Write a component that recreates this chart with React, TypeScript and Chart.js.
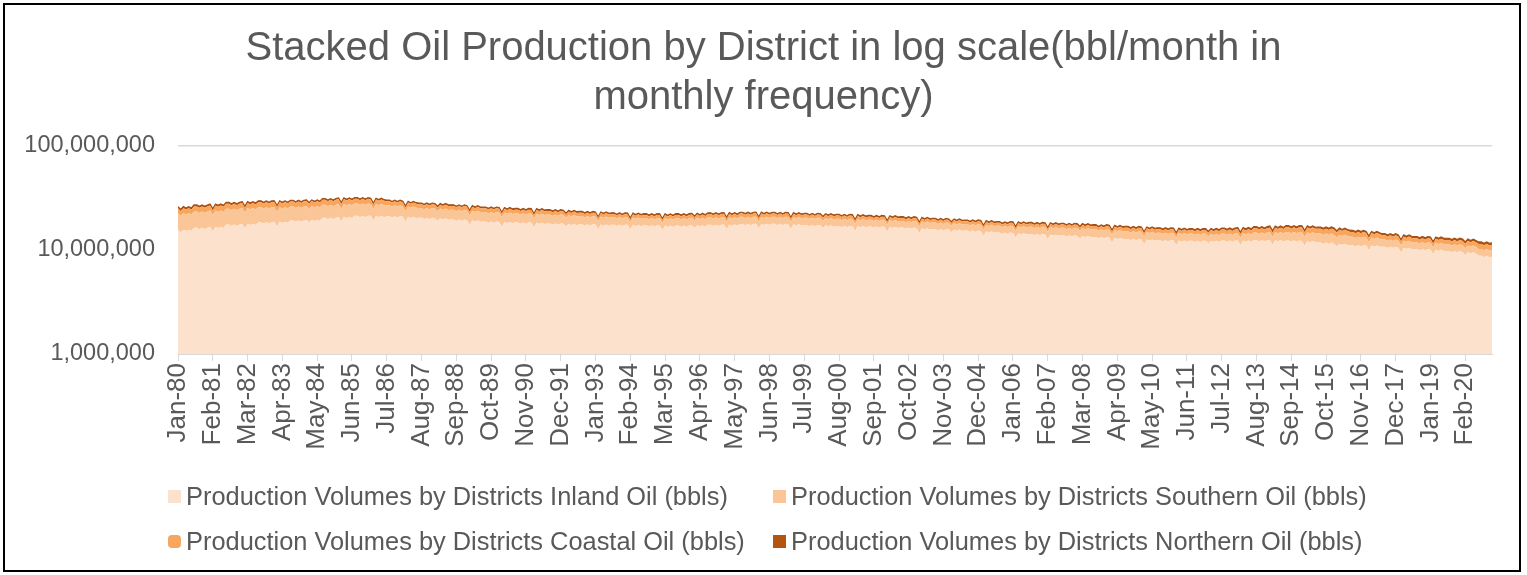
import React, { useEffect, useRef } from 'react';
import { Chart, registerables } from 'chart.js';

Chart.register(...registerables);

// ---------- data ----------
const MONTHS = ['Jan', 'Feb', 'Mar', 'Apr', 'May', 'Jun', 'Jul', 'Aug', 'Sep', 'Oct', 'Nov', 'Dec'];
const YEARS = ['80', '81', '82', '83', '84', '85', '86', '87', '88', '89', '90', '91', '92', '93', '94', '95', '96', '97', '98', '99',
  '00', '01', '02', '03', '04', '05', '06', '07', '08', '09', '10', '11', '12', '13', '14', '15', '16', '17', '18', '19', '20'];
const categories: string[] = YEARS.flatMap((y) => MONTHS.map((m) => `${m}-${y}`));

const xTickLabels = ['Jan-80', 'Feb-81', 'Mar-82', 'Apr-83', 'May-84', 'Jun-85', 'Jul-86', 'Aug-87', 'Sep-88', 'Oct-89',
  'Nov-90', 'Dec-91', 'Jan-93', 'Feb-94', 'Mar-95', 'Apr-96', 'May-97', 'Jun-98', 'Jul-99', 'Aug-00', 'Sep-01', 'Oct-02',
  'Nov-03', 'Dec-04', 'Jan-06', 'Feb-07', 'Mar-08', 'Apr-09', 'May-10', 'Jun-11', 'Jul-12', 'Aug-13', 'Sep-14', 'Oct-15',
  'Nov-16', 'Dec-17', 'Jan-19', 'Feb-20'];
const yTickValues = [1000000, 10000000, 100000000];

// values in units of 10,000 bbl per month, one row per year (Jan..Dec)
const UNIT = 10000;
const inlandOil = [
  1570, 1476, 1570, 1523, 1570, 1523, 1633, 1633, 1584, 1633, 1584, 1633,
  1677, 1509, 1677, 1627, 1677, 1627, 1757, 1757, 1704, 1757, 1704, 1757,
  1793, 1614, 1793, 1739, 1793, 1739, 1850, 1850, 1795, 1850, 1795, 1850,
  1870, 1683, 1870, 1814, 1870, 1814, 1923, 1923, 1865, 1923, 1865, 1923,
  1957, 1840, 1957, 1898, 1957, 1898, 2037, 2037, 1976, 2037, 1976, 2037,
  2083, 1875, 2083, 2021, 2083, 2021, 2130, 2130, 2066, 2130, 2066, 2130,
  2130, 1917, 2130, 2066, 2130, 2066, 2107, 2107, 2044, 2107, 2044, 2107,
  2083, 1875, 2083, 2021, 2083, 2021, 2040, 2040, 1979, 2040, 1979, 2040,
  2020, 1899, 2020, 1959, 2020, 1959, 1963, 1963, 1904, 1963, 1904, 1963,
  1927, 1734, 1927, 1869, 1927, 1869, 1877, 1877, 1821, 1877, 1821, 1877,
  1863, 1677, 1863, 1807, 1863, 1807, 1840, 1840, 1785, 1840, 1785, 1840,
  1830, 1647, 1830, 1775, 1830, 1775, 1803, 1803, 1749, 1803, 1749, 1803,
  1787, 1680, 1787, 1733, 1787, 1733, 1767, 1767, 1714, 1767, 1714, 1767,
  1763, 1587, 1763, 1710, 1763, 1710, 1753, 1753, 1700, 1753, 1700, 1753,
  1747, 1572, 1747, 1695, 1747, 1695, 1730, 1730, 1678, 1730, 1678, 1730,
  1720, 1548, 1720, 1668, 1720, 1668, 1720, 1720, 1668, 1720, 1668, 1720,
  1730, 1626, 1730, 1678, 1730, 1678, 1750, 1750, 1698, 1750, 1698, 1750,
  1760, 1584, 1760, 1707, 1760, 1707, 1780, 1780, 1727, 1780, 1727, 1780,
  1790, 1611, 1790, 1736, 1790, 1736, 1787, 1787, 1733, 1787, 1733, 1787,
  1773, 1596, 1773, 1720, 1773, 1720, 1743, 1743, 1691, 1743, 1691, 1743,
  1727, 1623, 1727, 1675, 1727, 1675, 1703, 1703, 1652, 1703, 1652, 1703,
  1697, 1527, 1697, 1646, 1697, 1646, 1683, 1683, 1633, 1683, 1633, 1683,
  1677, 1509, 1677, 1627, 1677, 1627, 1647, 1647, 1598, 1647, 1598, 1647,
  1623, 1461, 1623, 1574, 1623, 1574, 1587, 1587, 1539, 1587, 1539, 1587,
  1573, 1479, 1573, 1526, 1573, 1526, 1537, 1537, 1491, 1537, 1491, 1537,
  1513, 1362, 1513, 1468, 1513, 1468, 1473, 1473, 1429, 1473, 1429, 1473,
  1457, 1311, 1457, 1413, 1457, 1413, 1427, 1427, 1384, 1427, 1384, 1427,
  1413, 1272, 1413, 1371, 1413, 1371, 1383, 1383, 1342, 1383, 1342, 1383,
  1367, 1285, 1367, 1326, 1367, 1326, 1330, 1330, 1290, 1330, 1290, 1330,
  1310, 1179, 1310, 1271, 1310, 1271, 1277, 1277, 1239, 1277, 1239, 1277,
  1263, 1137, 1263, 1225, 1263, 1225, 1243, 1243, 1206, 1243, 1206, 1243,
  1237, 1113, 1237, 1200, 1237, 1200, 1230, 1230, 1193, 1230, 1193, 1230,
  1230, 1156, 1230, 1193, 1230, 1193, 1233, 1233, 1196, 1233, 1196, 1233,
  1237, 1113, 1237, 1200, 1237, 1200, 1243, 1243, 1206, 1243, 1206, 1243,
  1247, 1122, 1247, 1210, 1247, 1210, 1237, 1237, 1200, 1237, 1200, 1237,
  1223, 1101, 1223, 1186, 1223, 1186, 1180, 1180, 1145, 1180, 1145, 1180,
  1150, 1081, 1150, 1116, 1150, 1116, 1113, 1113, 1080, 1113, 1080, 1113,
  1107, 996, 1107, 1074, 1107, 1074, 1077, 1077, 1045, 1077, 1045, 1077,
  1053, 948, 1053, 1021, 1053, 1021, 1020, 1020, 989, 1020, 989, 1020,
  1010, 909, 1010, 980, 1010, 980, 977, 977, 948, 977, 948, 977,
  953, 896, 953, 924, 953, 924, 880, 880, 854, 880, 854, 860,
];
const southernOil = [
  690, 649, 690, 669, 690, 669, 710, 710, 689, 710, 689, 710,
  720, 648, 720, 698, 720, 698, 733, 733, 711, 733, 711, 733,
  737, 663, 737, 715, 737, 715, 727, 727, 705, 727, 705, 727,
  713, 642, 713, 692, 713, 692, 693, 693, 672, 693, 672, 693,
  687, 646, 687, 666, 687, 666, 683, 683, 663, 683, 663, 683,
  687, 618, 687, 666, 687, 666, 667, 667, 647, 667, 647, 667,
  643, 579, 643, 624, 643, 624, 580, 580, 563, 580, 563, 580,
  540, 486, 540, 524, 540, 524, 493, 493, 478, 493, 478, 493,
  487, 458, 487, 472, 487, 472, 470, 470, 456, 470, 456, 470,
  460, 414, 460, 446, 460, 446, 440, 440, 427, 440, 427, 440,
  430, 387, 430, 417, 430, 417, 413, 413, 401, 413, 401, 413,
  407, 366, 407, 395, 407, 395, 390, 390, 378, 390, 378, 390,
  380, 357, 380, 369, 380, 369, 353, 353, 342, 353, 342, 353,
  337, 303, 337, 327, 337, 327, 313, 313, 304, 313, 304, 313,
  307, 276, 307, 298, 307, 298, 300, 300, 291, 300, 291, 300,
  300, 270, 300, 291, 300, 291, 303, 303, 294, 303, 294, 303,
  307, 289, 307, 298, 307, 298, 310, 310, 301, 310, 301, 310,
  310, 279, 310, 301, 310, 301, 307, 307, 298, 307, 298, 307,
  303, 273, 303, 294, 303, 294, 300, 300, 291, 300, 291, 300,
  300, 270, 300, 291, 300, 291, 300, 300, 291, 300, 291, 300,
  300, 282, 300, 291, 300, 291, 293, 293, 284, 293, 284, 293,
  287, 258, 287, 278, 287, 278, 273, 273, 265, 273, 265, 273,
  267, 240, 267, 259, 267, 259, 257, 257, 249, 257, 249, 257,
  253, 228, 253, 245, 253, 245, 247, 247, 240, 247, 240, 247,
  243, 228, 243, 236, 243, 236, 237, 237, 230, 237, 230, 237,
  233, 210, 233, 226, 233, 226, 233, 233, 226, 233, 226, 233,
  237, 213, 237, 230, 237, 230, 243, 243, 236, 243, 236, 243,
  247, 222, 247, 240, 247, 240, 253, 253, 245, 253, 245, 253,
  257, 242, 257, 249, 257, 249, 253, 253, 245, 253, 245, 253,
  247, 222, 247, 240, 247, 240, 237, 237, 230, 237, 230, 237,
  233, 210, 233, 226, 233, 226, 223, 223, 216, 223, 216, 223,
  217, 195, 217, 210, 217, 210, 207, 207, 201, 207, 201, 207,
  203, 191, 203, 197, 203, 197, 207, 207, 201, 207, 201, 207,
  213, 192, 213, 207, 213, 207, 230, 230, 223, 230, 223, 230,
  240, 216, 240, 233, 240, 233, 253, 253, 245, 253, 245, 253,
  257, 231, 257, 249, 257, 249, 257, 257, 249, 257, 249, 257,
  253, 238, 253, 245, 253, 245, 230, 230, 223, 230, 223, 230,
  210, 189, 210, 204, 210, 204, 183, 183, 178, 183, 178, 183,
  177, 159, 177, 172, 177, 172, 167, 167, 162, 167, 162, 167,
  163, 147, 163, 158, 163, 158, 157, 157, 152, 157, 152, 157,
  153, 144, 153, 148, 153, 148, 145, 145, 141, 145, 141, 140,
];
const coastalOil = [
  265, 249, 265, 257, 265, 257, 277, 277, 269, 277, 269, 277,
  283, 255, 283, 275, 283, 275, 293, 293, 284, 293, 284, 293,
  297, 267, 297, 288, 297, 288, 303, 303, 294, 303, 294, 303,
  307, 276, 307, 298, 307, 298, 310, 310, 301, 310, 301, 310,
  310, 291, 310, 301, 310, 301, 317, 317, 307, 317, 307, 317,
  323, 291, 323, 313, 323, 313, 310, 310, 301, 310, 301, 310,
  290, 261, 290, 281, 290, 281, 257, 257, 249, 257, 249, 257,
  243, 219, 243, 236, 243, 236, 227, 227, 220, 227, 220, 227,
  223, 210, 223, 216, 223, 216, 217, 217, 210, 217, 210, 217,
  213, 192, 213, 207, 213, 207, 203, 203, 197, 203, 197, 203,
  197, 177, 197, 191, 197, 191, 190, 190, 184, 190, 184, 190,
  190, 171, 190, 184, 190, 184, 183, 183, 178, 183, 178, 183,
  177, 166, 177, 172, 177, 172, 167, 167, 162, 167, 162, 167,
  163, 147, 163, 158, 163, 158, 153, 153, 148, 153, 148, 153,
  147, 132, 147, 143, 147, 143, 143, 143, 139, 143, 139, 143,
  147, 132, 147, 143, 147, 143, 153, 153, 148, 153, 148, 153,
  157, 148, 157, 152, 157, 152, 160, 160, 155, 160, 155, 160,
  160, 144, 160, 155, 160, 155, 160, 160, 155, 160, 155, 160,
  160, 144, 160, 155, 160, 155, 157, 157, 152, 157, 152, 157,
  153, 138, 153, 148, 153, 148, 150, 150, 146, 150, 146, 150,
  150, 141, 150, 146, 150, 146, 147, 147, 143, 147, 143, 147,
  143, 129, 143, 139, 143, 139, 137, 137, 133, 137, 133, 137,
  133, 120, 133, 129, 133, 129, 130, 130, 126, 130, 126, 130,
  130, 117, 130, 126, 130, 126, 127, 127, 123, 127, 123, 127,
  123, 116, 123, 119, 123, 119, 120, 120, 116, 120, 116, 120,
  120, 108, 120, 116, 120, 116, 120, 118, 100, 105, 112, 120,
  120, 108, 120, 116, 120, 116, 120, 120, 116, 120, 116, 120,
  120, 108, 120, 116, 120, 116, 120, 120, 116, 120, 116, 120,
  120, 113, 120, 116, 120, 116, 120, 120, 100, 108, 114, 120,
  120, 108, 120, 116, 120, 116, 120, 120, 116, 120, 116, 120,
  120, 108, 120, 116, 120, 116, 120, 120, 116, 120, 116, 120,
  120, 108, 120, 116, 120, 116, 123, 123, 119, 123, 119, 123,
  127, 119, 127, 123, 127, 123, 133, 133, 129, 133, 129, 133,
  137, 123, 137, 133, 137, 133, 147, 147, 143, 147, 143, 147,
  153, 138, 153, 148, 153, 148, 163, 163, 158, 163, 158, 163,
  167, 150, 167, 162, 167, 162, 167, 167, 162, 167, 162, 167,
  163, 153, 163, 158, 163, 158, 150, 150, 146, 150, 146, 150,
  140, 126, 140, 136, 140, 136, 123, 123, 119, 123, 119, 123,
  117, 105, 117, 113, 117, 113, 110, 110, 107, 110, 107, 110,
  110, 99, 110, 107, 110, 107, 113, 113, 110, 113, 110, 113,
  117, 110, 117, 113, 117, 113, 120, 120, 116, 120, 116, 120,
];
const northernOil = [
  90, 85, 90, 87, 90, 87, 90, 90, 87, 90, 87, 90,
  90, 81, 90, 87, 90, 87, 90, 90, 87, 90, 87, 90,
  90, 81, 90, 87, 90, 87, 90, 90, 87, 90, 87, 88,
  82, 74, 82, 80, 81, 79, 80, 80, 78, 80, 78, 80,
  80, 75, 80, 78, 80, 78, 80, 80, 78, 80, 78, 80,
  80, 72, 80, 78, 80, 78, 80, 80, 78, 80, 78, 80,
  80, 72, 80, 78, 79, 77, 76, 76, 74, 75, 73, 74,
  72, 65, 71, 69, 70, 68, 70, 70, 68, 70, 68, 70,
  70, 66, 70, 68, 70, 68, 70, 70, 68, 70, 68, 70,
  70, 63, 70, 68, 70, 68, 70, 70, 68, 70, 68, 70,
  70, 63, 70, 68, 70, 68, 70, 70, 68, 70, 68, 70,
  70, 63, 70, 68, 70, 68, 68, 68, 66, 66, 64, 65,
  63, 59, 62, 60, 62, 60, 61, 61, 59, 60, 58, 60,
  60, 54, 60, 58, 60, 58, 60, 60, 58, 60, 58, 60,
  60, 54, 60, 58, 60, 58, 60, 60, 58, 60, 58, 60,
  60, 54, 60, 58, 60, 58, 60, 60, 58, 60, 58, 60,
  60, 56, 60, 58, 60, 58, 60, 60, 58, 60, 58, 60,
  60, 54, 60, 58, 60, 58, 60, 60, 58, 60, 58, 60,
  60, 54, 60, 58, 60, 58, 60, 60, 58, 60, 58, 60,
  60, 54, 60, 58, 60, 58, 60, 60, 58, 60, 58, 60,
  60, 56, 60, 58, 60, 58, 60, 60, 58, 60, 58, 60,
  60, 54, 60, 58, 60, 58, 60, 60, 58, 60, 58, 60,
  60, 54, 60, 58, 59, 57, 57, 56, 54, 55, 53, 54,
  53, 48, 52, 51, 52, 50, 51, 51, 49, 50, 49, 50,
  50, 47, 50, 49, 50, 49, 50, 50, 49, 50, 49, 50,
  50, 45, 50, 49, 50, 49, 50, 50, 49, 50, 49, 50,
  50, 45, 50, 49, 50, 49, 50, 50, 49, 50, 49, 50,
  50, 45, 50, 49, 50, 49, 50, 50, 49, 50, 49, 50,
  50, 47, 50, 49, 50, 49, 50, 50, 49, 50, 49, 50,
  50, 45, 50, 49, 50, 49, 50, 50, 49, 50, 49, 50,
  50, 45, 50, 49, 50, 49, 50, 50, 49, 50, 49, 50,
  50, 45, 50, 49, 50, 49, 50, 50, 49, 50, 49, 50,
  50, 47, 50, 49, 51, 50, 52, 53, 52, 54, 53, 55,
  56, 51, 57, 56, 58, 57, 59, 60, 58, 60, 58, 60,
  60, 54, 60, 58, 60, 58, 60, 60, 58, 60, 58, 60,
  60, 54, 60, 58, 60, 58, 60, 60, 58, 60, 58, 60,
  60, 56, 60, 58, 59, 57, 57, 56, 54, 55, 53, 54,
  53, 48, 52, 51, 52, 50, 51, 51, 49, 50, 49, 50,
  50, 45, 50, 49, 50, 49, 50, 50, 49, 50, 49, 50,
  50, 45, 50, 49, 50, 49, 50, 50, 49, 50, 49, 50,
  50, 47, 50, 49, 50, 49, 50, 50, 49, 50, 49, 50,
];

const seriesNames = [
  'Production Volumes by Districts Inland Oil (bbls)',
  'Production Volumes by Districts Southern Oil (bbls)',
  'Production Volumes by Districts Coastal Oil (bbls)',
  'Production Volumes by Districts Northern Oil (bbls)',
];
const titleLines = ['Stacked Oil Production by District in log scale(bbl/month in', 'monthly frequency)'];

// ---------- styles ----------
const COLORS = ['#FCE1CC', '#FAC597', '#F8A55E', '#B3540F'];
const TEXT = '#595959';
const FONT = '"Liberation Sans", Arial, sans-serif';
const TICK_SET = new Set(xTickLabels);

export default function App() {
  const ref = useRef<HTMLCanvasElement | null>(null);

  useEffect(() => {
    if (!ref.current) return;
    const series = [inlandOil, southernOil, coastalOil, northernOil];
    const chart = new Chart(ref.current, {
      type: 'line',
      data: {
        labels: categories,
        datasets: series.map((s, i) => ({
          label: seriesNames[i],
          data: s.map((v) => v * UNIT),
          backgroundColor: COLORS[i],
          borderColor: i === 3 ? '#A84E0E' : COLORS[i],
          borderWidth: i === 3 ? 1.2 : 0,
          fill: i === 0 ? 'origin' : '-1',
          pointRadius: 0,
          pointHoverRadius: 0,
          tension: 0,
        })),
      },
      options: {
        animation: false,
        responsive: false,
        devicePixelRatio: 1,
        layout: { padding: { left: 0, right: 35, top: 146, bottom: 111 } },
        plugins: {
          legend: { display: false },
          title: { display: false },
          tooltip: { enabled: false },
        },
        scales: {
          x: {
            type: 'category',
            afterFit: (scale: any) => { scale.height = 110; },
            grid: {
              drawOnChartArea: false,
              drawTicks: true,
              tickLength: 7,
              color: (ctx: any) => (TICK_SET.has(categories[ctx.index]) ? '#D9D9D9' : 'rgba(0,0,0,0)'),
            },
            border: { display: true, color: '#D9D9D9', width: 1 },
            ticks: {
              autoSkip: false,
              minRotation: 90,
              maxRotation: 90,
              padding: 2,
              color: TEXT,
              font: { family: FONT, size: 26 },
              callback: (_v: any, i: number) => (TICK_SET.has(categories[i]) ? categories[i] : ''),
            },
          },
          y: {
            type: 'logarithmic',
            stacked: true,
            min: 1000000,
            max: 100000000,
            afterFit: (scale: any) => { scale.width = 178; },
            afterBuildTicks: (scale: any) => { scale.ticks = yTickValues.map((v) => ({ value: v })); },
            grid: {
              drawTicks: false,
              color: (ctx: any) => (ctx.tick && ctx.tick.value === 100000000 ? '#D9D9D9' : 'rgba(0,0,0,0)'),
              lineWidth: 1.5,
            },
            border: { display: false },
            ticks: {
              padding: 23,
              color: TEXT,
              font: { family: FONT, size: 23.5 },
              callback: (v: any) => Number(v).toLocaleString('en-US'),
            },
          },
        },
      },
    });
    return () => chart.destroy();
  }, []);

  const legendPos = [
    { left: 168, top: 496 },
    { left: 773, top: 496 },
    { left: 168, top: 541 },
    { left: 773, top: 541 },
  ];

  return (
    <div style={{ position: 'absolute', left: 0, top: 0, width: 1527, height: 575, background: '#fff', fontFamily: FONT }}>
      <canvas ref={ref} width={1527} height={575} style={{ position: 'absolute', left: 0, top: 0 }} />
      <div style={{ position: 'absolute', left: 0, top: 22, width: 1527, textAlign: 'center', fontSize: 40, lineHeight: '49px', color: TEXT }}>
        {titleLines.map((t) => (<div key={t}>{t}</div>))}
      </div>
      {seriesNames.map((name, i) => (
        <div key={name} style={{ position: 'absolute', left: legendPos[i].left, top: legendPos[i].top - 15, height: 30, display: 'flex', alignItems: 'center', whiteSpace: 'nowrap' }}>
          <span style={{ display: 'inline-block', width: 13, height: 13, background: COLORS[i], borderRadius: i === 2 ? 4 : 0, marginRight: 5 }} />
          <span style={{ fontSize: 25.4, color: TEXT }}>{name}</span>
        </div>
      ))}
      <div style={{ position: 'absolute', left: 3, top: 3, width: 1518, height: 569, border: '2px solid #000', boxSizing: 'border-box', pointerEvents: 'none' }} />
    </div>
  );
}
